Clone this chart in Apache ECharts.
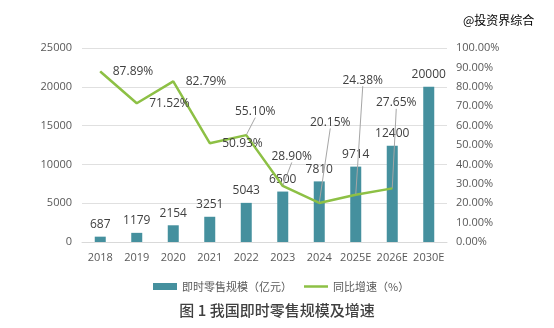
<!DOCTYPE html>
<html>
<head>
<meta charset="utf-8">
<script src="https://cdn.jsdelivr.net/npm/echarts@6/dist/echarts.min.js"></script>
<style>
html,body{margin:0;padding:0;background:#fff;}
#c{width:554px;height:328px;}
</style>
</head>
<body>
<div id="c"></div>
<script>
var categories = ['2018','2019','2020','2021','2022','2023','2024','2025E','2026E','2030E'];
var scaleValues = [687,1179,2154,3251,5043,6500,7810,9714,12400,20000];
var growthValues = [87.89,71.52,82.79,50.93,55.10,28.90,20.15,24.38,27.65,null];
var leftTicks = {min:0,max:25000,interval:5000};
var rightTicks = {min:0,max:100,interval:10};

// label offsets for moved line labels (style only)
var labelMoves = [null,null,null,null,[9,-12],[9,-18],[11,-69],[7,-103],[4,-74],null];

var FONT = '"Open Sans","Noto Sans CJK SC",sans-serif';
var chart = echarts.init(document.getElementById('c'));

var lineData = growthValues.map(function(v,i){
  var d = {value:v};
  if (labelMoves[i] === null) {
    d.label = {position:'right', distance:12};
    d.labelLine = {show:false};
  } else {
    d.label = {position:'top'};
    d.labelLine = {show:true};
  }
  return d;
});

chart.setOption({
  animation:false,
  backgroundColor:'#fff',
  grid:{left:82,right:107,top:48,bottom:86},
  graphic:[{type:'text',left:463,top:14,style:{text:'@投资界综合',fill:'#000',font:'12px "Noto Sans CJK SC"'}}],
  title:{text:'图 1 我国即时零售规模及增速',left:'center',top:298,
    textStyle:{fontSize:15,fontWeight:500,color:'#404040',fontFamily:'"Noto Sans CJK SC",sans-serif'}},
  legend:{left:148,top:276,itemWidth:24,itemHeight:7,itemGap:12,
    textStyle:{color:'#595959',fontSize:11,fontFamily:'"Noto Sans CJK SC",sans-serif'},
    data:[{name:'即时零售规模（亿元）',icon:'rect'},
          {name:'同比增速（%）',icon:'path://M0,0 L24,0 L24,2.5 L0,2.5 Z',itemStyle:{color:'#8dc045',opacity:1}}]},
  xAxis:{type:'category',data:categories,
    axisLine:{lineStyle:{color:'#d9d9d9'}},axisTick:{show:false},
    axisLabel:{color:'#595959',fontSize:11,fontFamily:FONT,margin:10,interval:0}},
  yAxis:[
    {type:'value',min:leftTicks.min,max:leftTicks.max,interval:leftTicks.interval,
      axisLabel:{color:'#595959',fontSize:11,fontFamily:FONT,margin:10,
        formatter:function(v){return String(v);}},
      splitLine:{lineStyle:{color:'#e0e0e0'}},axisLine:{show:false},axisTick:{show:false}},
    {type:'value',min:rightTicks.min,max:rightTicks.max,interval:rightTicks.interval,
      axisLabel:{color:'#595959',fontSize:11,fontFamily:FONT,margin:9,
        formatter:function(v){return v.toFixed(2)+'%';}},
      splitLine:{show:false},axisLine:{show:false},axisTick:{show:false}}
  ],
  series:[
    {name:'即时零售规模（亿元）',type:'bar',data:scaleValues,barWidth:11,
      itemStyle:{color:'#45909e'},z:2,
      label:{show:true,position:'top',distance:6,color:'#404040',fontSize:12,fontFamily:FONT}},
    {name:'同比增速（%）',type:'line',yAxisIndex:1,data:lineData,
      symbol:'circle',symbolSize:1,showSymbol:true,
      lineStyle:{color:'#8dc045',width:2.5},itemStyle:{color:'#8dc045'},z:3,
      label:{show:true,color:'#404040',fontSize:12,fontFamily:FONT,
        formatter:function(p){return p.value==null?'':p.value.toFixed(2)+'%';}},
      labelLine:{show:true,lineStyle:{color:'#a6a6a6',width:1},smooth:false},
      labelLayout:function(params){
        var m = labelMoves[params.dataIndex];
        if (!m) return {};
        return {dx:m[0],dy:m[1]};
      }}
  ]
});
</script>
</body>
</html>
